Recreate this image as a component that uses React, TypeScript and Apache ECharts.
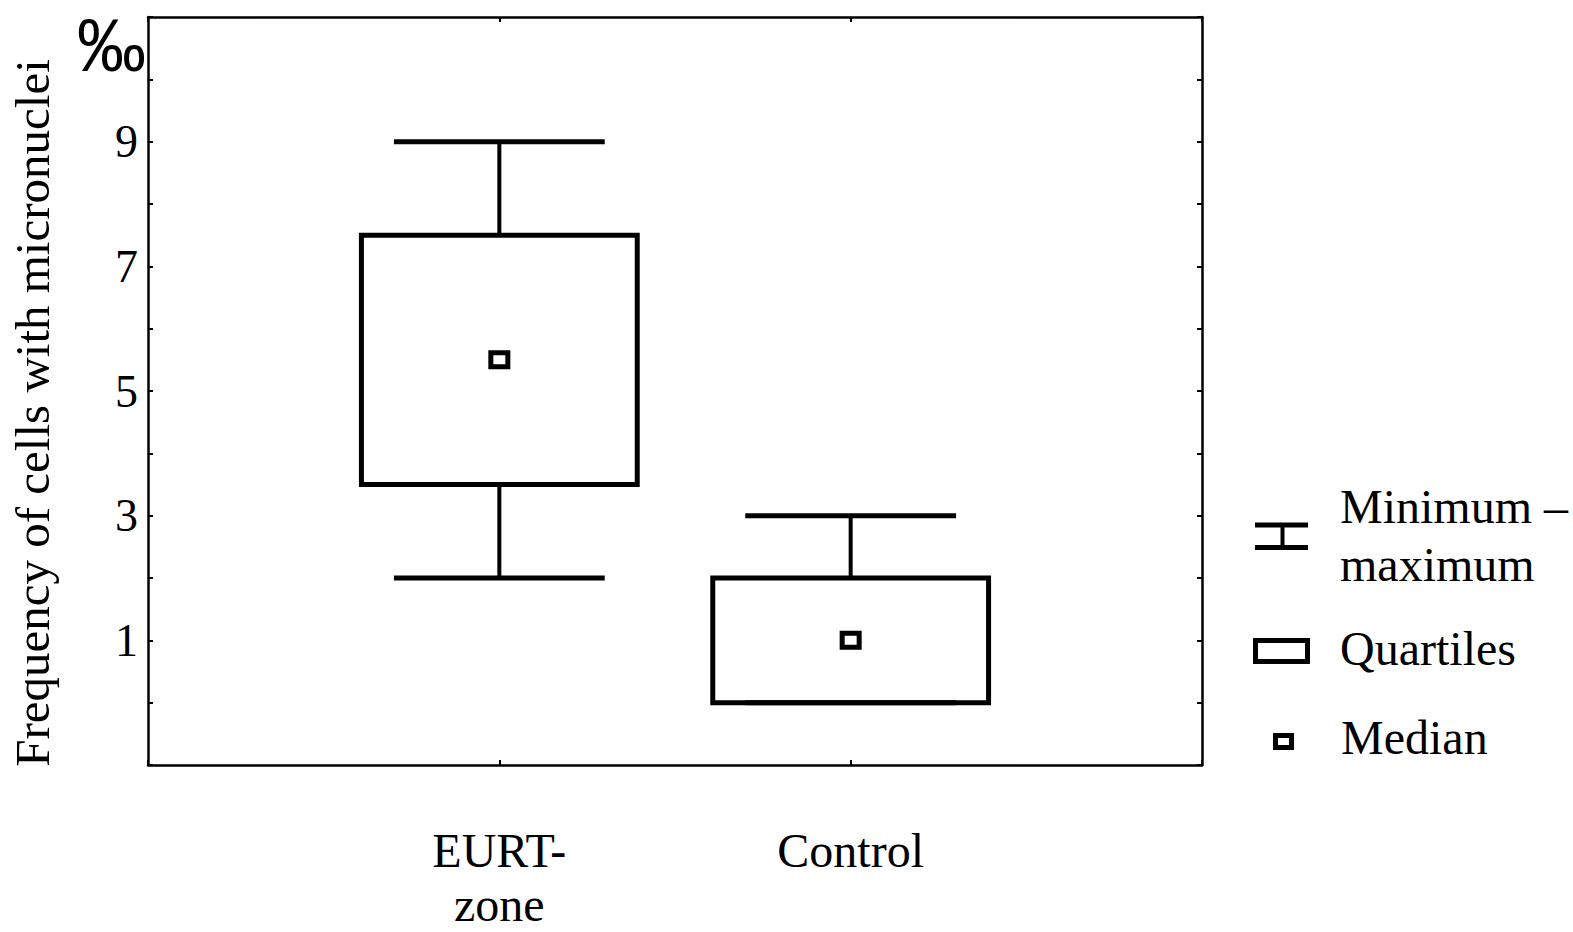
import React, { useEffect, useRef } from "react";
import * as echarts from "echarts";

const categories = ["EURT-\nzone", "Control"];
const minimums = [2, 0];
const lowerQuartiles = [3.5, 0];
const medians = [5.5, 1];
const upperQuartiles = [7.5, 2];
const maximums = [9, 3];
const yTickLabels = [1, 3, 5, 7, 9];
const legendLabels = ["Minimum –\nmaximum", "Quartiles", "Median"];
const unitLabel = "‰";
const yAxisTitle = "Frequency of cells with micronuclei";

const SERIF = "'Liberation Serif', 'Times New Roman', serif";
const BLACK = "#000";

export default function App() {
  const ref = useRef<HTMLDivElement>(null);

  useEffect(() => {
    if (!ref.current) return;
    const chart = echarts.init(ref.current, null, { renderer: "svg" });

    const data = categories.map((_, i) => [
      i + 1,
      minimums[i],
      lowerQuartiles[i],
      medians[i],
      upperQuartiles[i],
      maximums[i],
    ]);

    const axisLine = { show: true, onZero: false, lineStyle: { color: BLACK, width: 2.5 } };
    const axisTick = { show: true, inside: true, length: 5, lineStyle: { color: BLACK, width: 2 } };

    const option: any = {
      animation: false,
      backgroundColor: "#fff",
      grid: {
        left: 148,
        right: 371,
        top: 17,
        bottom: 167,
        containLabel: false,
        outerBoundsMode: "none",
      },
      xAxis: [
        {
          type: "value",
          position: "bottom",
          min: 0,
          max: 3,
          interval: 1,
          axisLine,
          axisTick,
          splitLine: { show: false },
          axisLabel: {
            formatter: (v: number) => {
              const idx = Math.round(v) - 1;
              return idx >= 0 && idx < categories.length ? categories[idx] : "";
            },
            fontFamily: SERIF,
            fontSize: 48,
            lineHeight: 54,
            color: BLACK,
            margin: 58,
          },
        },
        {
          type: "value",
          position: "top",
          min: 0,
          max: 3,
          interval: 1,
          axisLine,
          axisTick,
          splitLine: { show: false },
          axisLabel: { show: false },
        },
      ],
      yAxis: [
        {
          type: "value",
          position: "left",
          min: -1,
          max: 11,
          interval: 1,
          axisLine,
          axisTick,
          splitLine: { show: false },
          axisLabel: {
            formatter: (v: number) => (yTickLabels.includes(v) ? String(v) : ""),
            fontFamily: SERIF,
            fontSize: 46,
            color: BLACK,
            margin: 10,
          },
        },
        {
          type: "value",
          position: "right",
          min: -1,
          max: 11,
          interval: 1,
          axisLine,
          axisTick,
          splitLine: { show: false },
          axisLabel: { show: false },
        },
      ],
      series: [
        {
          type: "custom",
          xAxisIndex: 0,
          yAxisIndex: 0,
          clip: false,
          data,
          renderItem: (params: any, api: any) => {
            const x = api.value(0);
            const pMin = api.coord([x, api.value(1)]);
            const pQ1 = api.coord([x, api.value(2)]);
            const pMed = api.coord([x, api.value(3)]);
            const pQ3 = api.coord([x, api.value(4)]);
            const pMax = api.coord([x, api.value(5)]);
            const boxW = api.size([0.785, 0])[0];
            const capW = api.size([0.6, 0])[0];
            const cx = pMed[0];
            const line = (x1: number, y1: number, x2: number, y2: number, w: number) => ({
              type: "line",
              shape: { x1, y1, x2, y2 },
              style: { stroke: BLACK, lineWidth: w },
            });
            return {
              type: "group",
              children: [
                line(cx, pQ3[1], cx, pMax[1], 4),
                line(cx, pQ1[1], cx, pMin[1], 4),
                line(cx - capW / 2, pMax[1], cx + capW / 2, pMax[1], 5),
                line(cx - capW / 2, pMin[1], cx + capW / 2, pMin[1], 5),
                {
                  type: "rect",
                  shape: { x: cx - boxW / 2, y: pQ3[1], width: boxW, height: pQ1[1] - pQ3[1] },
                  style: { fill: "none", stroke: BLACK, lineWidth: 5 },
                },
                {
                  type: "rect",
                  shape: { x: cx - 8.5, y: pMed[1] - 7, width: 17, height: 14 },
                  style: { fill: "#fff", stroke: BLACK, lineWidth: 5 },
                },
              ],
            };
          },
        },
      ],
      graphic: [
        {
          type: "text",
          x: 32,
          y: 413,
          rotation: Math.PI / 2,
          style: {
            text: yAxisTitle,
            fontFamily: SERIF,
            fontSize: 49,
            fill: BLACK,
            textAlign: "center",
            textVerticalAlign: "middle",
          },
        },
        {
          type: "text",
          x: 77,
          y: 45,
          scaleX: 0.92,
          style: {
            text: unitLabel,
            fontFamily: "'Liberation Sans', Arial, sans-serif",
            fontSize: 75,
            fill: BLACK,
            textAlign: "left",
            textVerticalAlign: "middle",
          },
        },
        // Legend: min-max icon
        {
          type: "line",
          shape: { x1: 1255, y1: 525, x2: 1308, y2: 525 },
          style: { stroke: BLACK, lineWidth: 5 },
        },
        {
          type: "line",
          shape: { x1: 1255, y1: 547.5, x2: 1308, y2: 547.5 },
          style: { stroke: BLACK, lineWidth: 5 },
        },
        {
          type: "line",
          shape: { x1: 1282.5, y1: 525, x2: 1282.5, y2: 547.5 },
          style: { stroke: BLACK, lineWidth: 4 },
        },
        // Legend: quartiles icon
        {
          type: "rect",
          shape: { x: 1255.5, y: 640.5, width: 52, height: 21 },
          style: { fill: "none", stroke: BLACK, lineWidth: 5 },
        },
        // Legend: median icon
        {
          type: "rect",
          shape: { x: 1275.5, y: 735.5, width: 16, height: 12 },
          style: { fill: "#fff", stroke: BLACK, lineWidth: 5 },
        },
        {
          type: "text",
          x: 1340,
          y: 535,
          style: {
            text: legendLabels[0],
            fontFamily: SERIF,
            fontSize: 48,
            lineHeight: 58,
            fill: BLACK,
            textAlign: "left",
            textVerticalAlign: "middle",
          },
        },
        {
          type: "text",
          x: 1340,
          y: 648,
          style: {
            text: legendLabels[1],
            fontFamily: SERIF,
            fontSize: 48,
            fill: BLACK,
            textAlign: "left",
            textVerticalAlign: "middle",
          },
        },
        {
          type: "text",
          x: 1341,
          y: 737,
          style: {
            text: legendLabels[2],
            fontFamily: SERIF,
            fontSize: 48,
            fill: BLACK,
            textAlign: "left",
            textVerticalAlign: "middle",
          },
        },
      ],
    };

    chart.setOption(option);
    return () => chart.dispose();
  }, []);

  return (
    <div
      ref={ref}
      style={{ position: "fixed", left: 0, top: 0, width: 1573, height: 932, background: "#fff" }}
    />
  );
}
